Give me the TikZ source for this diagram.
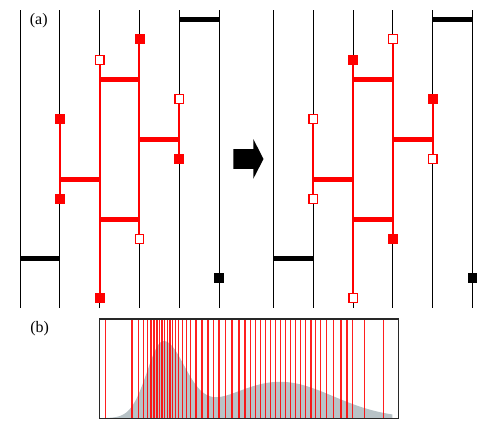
\documentclass[tikz,border=0pt]{standalone}
\usepackage{fontspec}
\setmainfont{Liberation Serif}
\definecolor{densgray}{RGB}{184,194,198}
\definecolor{framegray}{RGB}{40,40,40}
\begin{document}
\begin{tikzpicture}[x=1pt,y=-1pt,
  wl/.style={line width=1pt, black},
  bar/.style={line width=5pt, black},
  rl/.style={line width=2pt, red},
  rung/.style={line width=5pt, red},
  fsq/.style={draw=red, fill=red, minimum size=9pt, inner sep=0pt, line width=0.8pt},
  osq/.style={draw=red, fill=white, minimum size=8.5pt, inner sep=0pt, line width=1.3pt},
  bsq/.style={fill=black, minimum size=9.5pt, inner sep=0pt},
  lbl/.style={font=\fontsize{16}{16}\selectfont, inner sep=0pt},
  samp/.style={line width=1.3pt, red, opacity=0.88},
  declare function={dens(\t)=74*exp(-0.5*min(((\t-163)/(\t<163?16:21.5))^2,40)) + 36.5*exp(-0.5*min(((\t-280)/53)^2,40));}
]
\useasboundingbox (0,0) rectangle (498,429);

% ---------- left panel ----------
\begin{scope}[name prefix=L-]
  \foreach \i/\x in {1/20,2/59.8,3/99.6,4/139.4,5/179.2,6/219}{
    \coordinate (t\i) at (\x,10);
    \coordinate (b\i) at (\x,308);
    \draw[wl] (t\i) -- (b\i);
  }
  \coordinate (hb1) at (179.2,19); \coordinate (hb2) at (219,19);
  \coordinate (lb1) at (20,258);   \coordinate (lb2) at (59.8,258);
  \draw[bar] (hb1) -- (hb2);
  \draw[bar] (lb1) -- (lb2);
  \coordinate (r1a) at (99.6,79);  \coordinate (r1b) at (139.4,79);
  \coordinate (r2a) at (139.4,139);\coordinate (r2b) at (179.2,139);
  \coordinate (r3a) at (59.8,179);  \coordinate (r3b) at (99.6,179);
  \coordinate (r4a) at (99.6,219);  \coordinate (r4b) at (139.4,219);
  \draw[rl] (99.6,60) -- (99.6,298);
  \draw[rl] (139.4,39) -- (139.4,239);
  \draw[rl] (59.8,119) -- (59.8,199);
  \draw[rl] (179.2,99) -- (179.2,159);
  \draw[rung] (r1a) -- (r1b);
  \draw[rung] (r2a) -- (r2b);
  \draw[rung] (r3a) -- (r3b);
  \draw[rung] (r4a) -- (r4b);
  \node[osq] (a1) at (99.6,60) {};
  \node[fsq] (a2) at (99.6,298) {};
  \node[fsq] (b1) at (139.4,39) {};
  \node[osq] (b2) at (139.4,239) {};
  \node[fsq] (c1) at (59.8,119) {};
  \node[fsq] (c2) at (59.8,199) {};
  \node[osq] (d1) at (179.2,99) {};
  \node[fsq] (d2) at (179.2,159) {};
  \node[bsq] (k) at (219,278) {};
\end{scope}

% ---------- right panel ----------
\begin{scope}[xshift=253.5pt, name prefix=R-]
  \foreach \i/\x in {1/20,2/59.8,3/99.6,4/139.4,5/179.2,6/219}{
    \coordinate (t\i) at (\x,10);
    \coordinate (b\i) at (\x,308);
    \draw[wl] (t\i) -- (b\i);
  }
  \coordinate (hb1) at (179.2,19); \coordinate (hb2) at (219,19);
  \coordinate (lb1) at (20,258);   \coordinate (lb2) at (59.8,258);
  \draw[bar] (hb1) -- (hb2);
  \draw[bar] (lb1) -- (lb2);
  \coordinate (r1a) at (99.6,79);  \coordinate (r1b) at (139.4,79);
  \coordinate (r2a) at (139.4,139);\coordinate (r2b) at (179.2,139);
  \coordinate (r3a) at (59.8,179);  \coordinate (r3b) at (99.6,179);
  \coordinate (r4a) at (99.6,219);  \coordinate (r4b) at (139.4,219);
  \draw[rl] (99.6,60) -- (99.6,298);
  \draw[rl] (139.4,39) -- (139.4,239);
  \draw[rl] (59.8,119) -- (59.8,199);
  \draw[rl] (179.2,99) -- (179.2,159);
  \draw[rung] (r1a) -- (r1b);
  \draw[rung] (r2a) -- (r2b);
  \draw[rung] (r3a) -- (r3b);
  \draw[rung] (r4a) -- (r4b);
  \node[fsq] (a1) at (99.6,60) {};
  \node[osq] (a2) at (99.6,298) {};
  \node[osq] (b1) at (139.4,39) {};
  \node[fsq] (b2) at (139.4,239) {};
  \node[osq] (c1) at (59.8,119) {};
  \node[osq] (c2) at (59.8,199) {};
  \node[fsq] (d1) at (179.2,99) {};
  \node[osq] (d2) at (179.2,159) {};
  \node[bsq] (k) at (219,278) {};
\end{scope}

% ---------- arrow ----------
\fill[black] (233.3,149) -- (253.3,149) -- (253.3,139) -- (263.5,159)
  -- (253.3,178.8) -- (253.3,168.8) -- (233.3,168.8) -- cycle;

% ---------- labels ----------
\node[lbl] (la) at (38.7,20.5) {(a)};
\node[lbl] (lbb) at (39.7,329) {(b)};

% ---------- panel (b) ----------
\fill[densgray] (100,418.3) -- plot[domain=100:392.3, samples=200] (\x,{418.3-dens(\x)}) -- (392.3,418.3) -- cycle;
\foreach \x in {105.5,132,138.5,143.5,147.5,151,154,157,159.5,162,164.7,167.3,170,172.7,175.7,178.7,182.7,186.5,190.5,196,202,208,213.5,219,225.5,232,239,245,250.5,255.3,260.3,265.5,270.5,275.5,280.5,285.5,290.5,295.5,300.5,305.5,311,315.7,320.7,326.7,333.7,341,347,352.3,364.3,383.3}{
  \draw[samp] (\x,319) -- (\x,418.3);
}
\node[draw=framegray, line width=1.1pt, inner sep=0pt, minimum width=298.8pt, minimum height=99.3pt] (box) at (248.9,368.65) {};
\end{tikzpicture}
\end{document}
